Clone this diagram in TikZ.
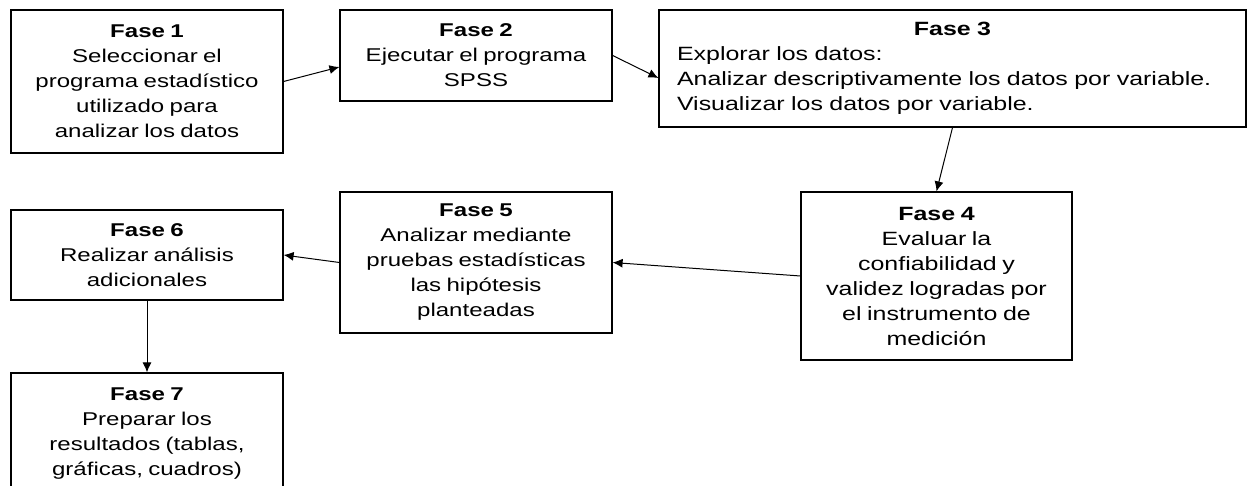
\documentclass[tikz,border=0pt]{standalone}
\usepackage{fontspec}
\setmainfont{Liberation Sans}[FakeStretch=1.3, WordSpace=0.8]
\usetikzlibrary{arrows.meta}

\begin{document}
\begin{tikzpicture}[x=0.5pt,y=0.5pt,
    fase/.style={draw, line width=0.6pt, align=center, inner sep=4.5pt,
      font=\fontsize{9.25pt}{12.5pt}\selectfont},
    grande/.style={font=\fontsize{9.6pt}{12.5pt}\selectfont},
    flecha/.style={-{Latex[length=5pt,width=4.5pt]}, line width=0.5pt}]
  \useasboundingbox (0,0) rectangle (1251,486);
  % fila de arriba
  \node[fase, minimum width=136pt, minimum height=71.5pt] (fase1) at (147,404.5)
    {\textbf{Fase 1}\\Seleccionar el\\programa estadístico\\utilizado para\\analizar los datos};
  \node[fase, minimum width=136pt, minimum height=45.5pt] (fase2) at (476,430.5)
    {\textbf{Fase 2}\\Ejecutar el programa\\SPSS};
  \node[fase, grande, align=left, inner xsep=9pt, text width=275.5pt, minimum width=293.5pt, minimum height=58.5pt] (fase3) at (952.5,417.5)
    {\makebox[\hsize]{\bfseries Fase 3}\\Explorar los datos:\\Analizar descriptivamente los datos por variable.\\Visualizar los datos por variable.};
  % fila de abajo
  \node[fase, grande, minimum width=135.5pt, minimum height=84pt] (fase4) at (936.5,210)
    {\textbf{Fase 4}\\Evaluar la\\confiabilidad y\\validez logradas por\\el instrumento de\\medición};
  \node[fase, minimum width=136pt, minimum height=70.5pt] (fase5) at (476,223.5)
    {\textbf{Fase 5}\\Analizar mediante\\pruebas estadísticas\\las hipótesis\\planteadas};
  \node[fase, minimum width=136pt, minimum height=45pt] (fase6) at (147,231)
    {\textbf{Fase 6}\\Realizar análisis\\adicionales};
  \node[fase, minimum width=136pt, minimum height=61pt] (fase7) at (147,52)
    {\textbf{Fase 7}\\Preparar los\\resultados (tablas,\\gráficas, cuadros)};
  % flechas
  \draw[flecha] (fase1.east) -- ([yshift=-5.75pt]fase2.west);
  \draw[flecha] (fase2.east) -- ([yshift=-4.75pt]fase3.west);
  \draw[flecha] (fase3.south) -- (fase4.north);
  \draw[flecha] (fase4.west) -- (fase5.east);
  \draw[flecha] (fase5.west) -- (fase6.east);
  \draw[flecha] (fase6.south) -- (fase7.north);
\end{tikzpicture}
\end{document}
